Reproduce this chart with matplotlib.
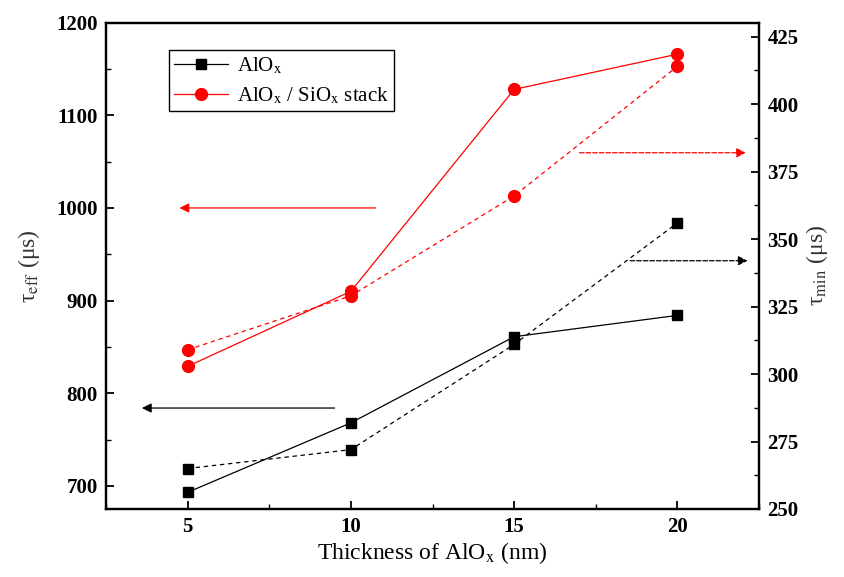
import matplotlib
matplotlib.use('Agg')
import matplotlib.pyplot as plt
from matplotlib.ticker import MultipleLocator

plt.rcParams['font.family'] = ['Liberation Serif', 'DejaVu Serif']
plt.rcParams['mathtext.fontset'] = 'stix'

thickness = [5, 10, 15, 20]
# left axis: tau_eff (solid lines)
tau_eff_alox = [693, 768, 861, 884]
tau_eff_stack = [829, 910, 1128, 1166]
# right axis: tau_min (dashed lines)
tau_min_alox = [265, 272, 311, 356]
tau_min_stack = [309, 329, 366, 414]

fig = plt.figure(figsize=(8.45, 5.77), dpi=100)
ax = fig.add_axes([106/845, 1 - 509/577, (759 - 106)/845, (509 - 22.7)/577])
ax2 = ax.twinx()

ax.plot(thickness, tau_eff_alox, color='black', lw=0.9, marker='s', ms=7, label=r'AlO$_{\rm x}$')
ax.plot(thickness, tau_eff_stack, color='#ff0000', lw=0.9, marker='o', ms=8.5,
        label=r'AlO$_{\rm x}$ / SiO$_{\rm x}$ stack')
ax2.plot(thickness, tau_min_alox, color='black', lw=0.9, ls=(0, (3.5, 3)), marker='s', ms=7)
ax2.plot(thickness, tau_min_stack, color='#ff0000', lw=0.9, ls=(0, (3.5, 3)), marker='o', ms=8.5)

ax.set_xlim(2.5, 22.5)
ax.set_ylim(675, 1200)
ax2.set_ylim(250, 430.2)

# arrows showing which axis each set belongs to
arr = dict(arrowstyle='-|>', lw=0.9, mutation_scale=14, shrinkA=0, shrinkB=0)
ax.annotate('', xy=(4.75, 1000), xytext=(10.75, 1000),
            arrowprops=dict(arr, color='#ff0000'))
ax.annotate('', xy=(3.6, 784), xytext=(9.5, 784),
            arrowprops=dict(arr, color='black'))
ax2.annotate('', xy=(22.1, 382), xytext=(17.0, 382),
             arrowprops=dict(arr, color='#ff0000', ls='--'))
ax2.annotate('', xy=(22.15, 342), xytext=(18.55, 342),
             arrowprops=dict(arr, color='black', ls='--'))

ax.xaxis.set_major_locator(MultipleLocator(5))
ax.xaxis.set_minor_locator(MultipleLocator(2.5))
ax.yaxis.set_major_locator(MultipleLocator(100))
ax.yaxis.set_minor_locator(MultipleLocator(50))
ax2.yaxis.set_major_locator(MultipleLocator(25))
ax2.yaxis.set_minor_locator(MultipleLocator(12.5))

for a in (ax, ax2):
    a.tick_params(which='major', direction='in', length=6, width=1.3, labelsize=15, pad=6)
    a.tick_params(which='minor', direction='in', length=3.5, width=1.0)
    for s in a.spines.values():
        s.set_linewidth(1.6)
    for lab in a.get_xticklabels() + a.get_yticklabels():
        lab.set_fontweight('bold')
ax.tick_params(axis='x', which='both', top=False)

ax.set_xlabel(r'Thickness of AlO$_{\rm x}$ (nm)', fontsize=17, labelpad=2)
ax.set_ylabel(r'τ$_{\rm eff}$ (μs)', fontsize=17, color='#333333', labelpad=10)
ax2.set_ylabel(r'τ$_{\rm min}$ (μs)', fontsize=17, color='#333333', labelpad=4)

h, l = ax.get_legend_handles_labels()
leg = ax2.legend(h, l, loc='upper left', bbox_to_anchor=(0.0965, 0.944), fontsize=15,
                 frameon=True, fancybox=False, framealpha=1, edgecolor='black',
                 borderaxespad=0, handlelength=2.6, borderpad=0.25, labelspacing=0.45,
                 handletextpad=0.4)
leg.get_frame().set_linewidth(1.0)

fig.savefig('out.png', dpi=100)
